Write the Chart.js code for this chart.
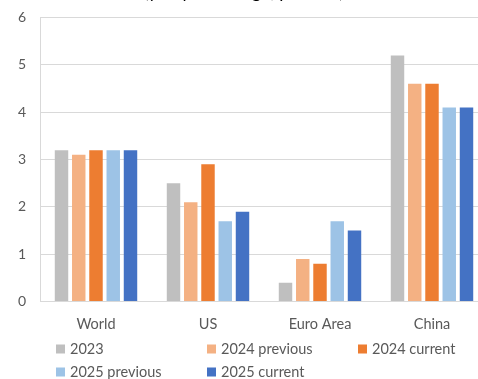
<!DOCTYPE html>
<html><head><meta charset="utf-8">
<script src="https://cdn.jsdelivr.net/npm/chart.js@4"></script>
<style>
html,body{margin:0;padding:0;background:#fff;overflow:hidden;width:478px;height:379px}
#wrap{position:absolute;left:0;top:-19px;width:500px;height:398px}
</style></head><body>
<div id="wrap"><canvas id="c"></canvas></div>
<script>
const categories = ['World', 'US', 'Euro Area', 'China'];
const seriesNames = ['2023', '2024 previous', '2024 current', '2025 previous', '2025 current'];
const v2023     = [3.2, 2.5, 0.4, 5.2];
const v2024prev = [3.1, 2.1, 0.9, 4.6];
const v2024cur  = [3.2, 2.9, 0.8, 4.6];
const v2025prev = [3.2, 1.7, 1.7, 4.1];
const v2025cur  = [3.2, 1.9, 1.5, 4.1];
const yTicks = [0, 1, 2, 3, 4, 5, 6];
const titleText = '(y-o-y % change, percent)';

const colors = ['#BFBFBF', '#F4B183', '#ED7D31', '#9DC3E6', '#4472C4'];
const values = [v2023, v2024prev, v2024cur, v2025prev, v2025cur];
const FONT = 'Lato, "Open Sans", sans-serif';

const gridLegend = {
  id: 'gridLegend',
  afterDraw(chart, args, opts) {
    const ctx = chart.ctx;
    ctx.save();
    ctx.font = '14.5px ' + FONT;
    ctx.textBaseline = 'middle';
    ctx.textAlign = 'left';
    chart.data.datasets.forEach((ds, i) => {
      const col = i % 3, row = Math.floor(i / 3);
      const x = opts.left + col * opts.colWidth;
      const y = opts.top + row * opts.rowHeight;
      ctx.fillStyle = ds.backgroundColor;
      ctx.fillRect(x, y - 4.5, 9, 9);
      ctx.fillStyle = '#595959';
      ctx.fillText(ds.label, x + 14, y);
    });
    ctx.restore();
  }
};

new Chart(document.getElementById('c'), {
  type: 'bar',
  data: {
    labels: categories,
    datasets: seriesNames.map((n, i) => ({
      label: n,
      data: values[i],
      backgroundColor: colors[i],
      borderWidth: 0,
      categoryPercentage: 0.77,
      barPercentage: 0.78
    }))
  },
  plugins: [gridLegend],
  options: {
    responsive: true,
    maintainAspectRatio: false,
    animation: false,
    layout: { padding: { top: 0, right: 12, bottom: 32, left: 0 } },
    plugins: {
      legend: { display: false },
      tooltip: { enabled: false },
      title: {
        display: true,
        text: titleText,
        color: '#000',
        font: { family: FONT, size: 18, weight: 'normal' },
        padding: { top: 0, bottom: 15 }
      },
      gridLegend: { left: 56, colWidth: 151, top: 368, rowHeight: 23 }
    },
    scales: {
      x: {
        grid: { display: false, drawTicks: false },
        border: { display: true, color: '#D9D9D9' },
        ticks: { color: '#595959', font: { family: FONT, size: 14.5 }, padding: 14 }
      },
      y: {
        min: 0, max: 6,
        afterBuildTicks(axis) { axis.ticks = yTicks.map(v => ({ value: v })); },
        afterFit(axis) { axis.width = 40; },
        grid: { color: '#D9D9D9', drawTicks: false },
        border: { display: true, color: '#D9D9D9' },
        ticks: { color: '#595959', font: { family: FONT, size: 14 }, padding: 14 }
      }
    }
  }
});
</script>
</body></html>
